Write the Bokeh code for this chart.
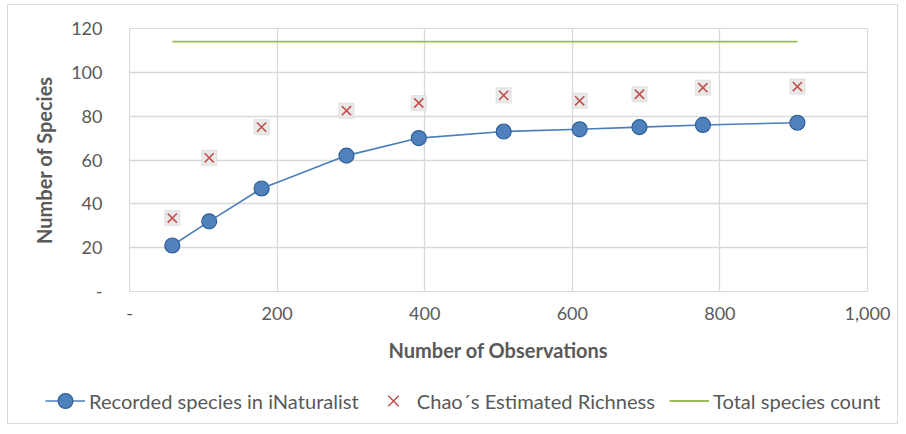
from bokeh.plotting import figure
from bokeh.layouts import column
from bokeh.models import (ColumnDataSource, Legend, LegendItem, CustomJSTickFormatter,
                          Range1d, FixedTicker)
from bokeh.embed import file_html
from bokeh.resources import INLINE

# Data
observations = [58, 108, 179, 294, 392, 507, 610, 691, 777, 905]
recorded_species = [21, 32, 47, 62, 70, 73, 74, 75, 76, 77]
chao_richness = [33.5, 61, 75, 82.5, 86, 89.5, 87, 90, 93, 93.5]
total_species = [114] * len(observations)

x_ticks = [0, 200, 400, 600, 800, 1000]
y_ticks = [0, 20, 40, 60, 80, 100, 120]

FONT = "Lato"
TXT = "#595959"
GRID = "#d9d9d9"
BLUE = "#4f81bd"
RED = "#c0504d"
GREEN = "#9bbb59"

src = ColumnDataSource(dict(x=observations, rec=recorded_species,
                            chao=chao_richness, total=total_species))

p = figure(width=889, height=372, output_backend="svg", toolbar_location=None,
           x_range=Range1d(0, 1000), y_range=Range1d(0, 120),
           min_border_left=121, min_border_right=30, min_border_top=23,
           min_border_bottom=86)

p.outline_line_color = GRID
p.background_fill_color = "white"
p.border_fill_color = "white"

# Total species count
p.line("x", "total", source=src, line_color=GREEN, line_width=1.8)

# Recorded species
p.line("x", "rec", source=src, line_color="#4a7ebb", line_width=1.6)
p.scatter("x", "rec", source=src, marker="circle", size=15,
          fill_color=BLUE, line_color="#2f5f98", line_width=1.2)

# Chao estimated richness (with light shadow box)
p.scatter("x", "chao", source=src, marker="square", size=15,
          fill_color="#e9e9e9", line_color="#dcdcdc", line_width=0.8)
p.scatter("x", "chao", source=src, marker="x", size=13,
          line_color=RED, line_width=1.6)

# Axes
for ax in (p.xaxis[0], p.yaxis[0]):
    ax.axis_line_color = None
    ax.major_tick_line_color = None
    ax.minor_tick_line_color = None
    ax.major_label_text_font = FONT
    ax.major_label_text_font_size = "18px"
    ax.major_label_text_color = TXT
    ax.axis_label_text_font = FONT
    ax.axis_label_text_font_size = "20px"
    ax.axis_label_text_font_style = "bold"
    ax.axis_label_text_color = TXT
    ax.formatter = CustomJSTickFormatter(
        code="return tick == 0 ? '-' : tick.toLocaleString('en-US');")

p.xaxis[0].ticker = FixedTicker(ticks=x_ticks)
p.yaxis[0].ticker = FixedTicker(ticks=y_ticks)
p.xaxis.axis_label = "Number of Observations"
p.yaxis.axis_label = "Number of Species"
p.xaxis.major_label_standoff = 9
p.xaxis.axis_label_standoff = 15
p.yaxis.major_label_standoff = 21
p.yaxis.axis_label_standoff = 12

p.xgrid.ticker = FixedTicker(ticks=x_ticks)
p.ygrid.ticker = FixedTicker(ticks=y_ticks)
p.grid.grid_line_color = GRID
p.grid.grid_line_width = 1.3

# Legend in its own strip below the chart (series drawn out of view, only for the key)
lg = figure(width=889, height=46, output_backend="svg", toolbar_location=None,
            x_range=Range1d(0, 1000), y_range=Range1d(1000, 1001),
            min_border_left=0, min_border_right=0, min_border_top=0, min_border_bottom=0)
lg.frame_align = False
lg.axis.visible = False
lg.grid.visible = False
lg.outline_line_color = None
lg.background_fill_color = "white"
lg.border_fill_color = "white"
l1 = lg.line("x", "rec", source=src, line_color="#4a7ebb", line_width=1.6)
m1 = lg.scatter("x", "rec", source=src, marker="circle", size=15,
                fill_color=BLUE, line_color="#2f5f98", line_width=1.2)
m2 = lg.scatter("x", "chao", source=src, marker="x", size=15,
                line_color=RED, line_width=1.5)
l3 = lg.line("x", "total", source=src, line_color=GREEN, line_width=1.8)

legend = Legend(items=[
    LegendItem(label="Recorded species in iNaturalist", renderers=[l1, m1]),
    LegendItem(label="Chao´s Estimated Richness", renderers=[m2]),
    LegendItem(label="Total species count", renderers=[l3]),
], orientation="horizontal", location=(37, 4))
legend.label_text_font = FONT
legend.label_text_font_size = "20.1px"
legend.label_text_color = TXT
legend.border_line_color = None
legend.background_fill_alpha = 0
legend.spacing = 14
legend.glyph_width = 40
legend.glyph_height = 37
legend.label_standoff = 4
legend.margin = 0
legend.padding = 0
lg.add_layout(legend, "center")

layout = column(p, lg, spacing=0, margin=(4, 0, 0, 7),
                styles={"border": "1px solid #d9d9d9", "background-color": "white"})

open("out.html", "w").write(file_html(layout, INLINE))
